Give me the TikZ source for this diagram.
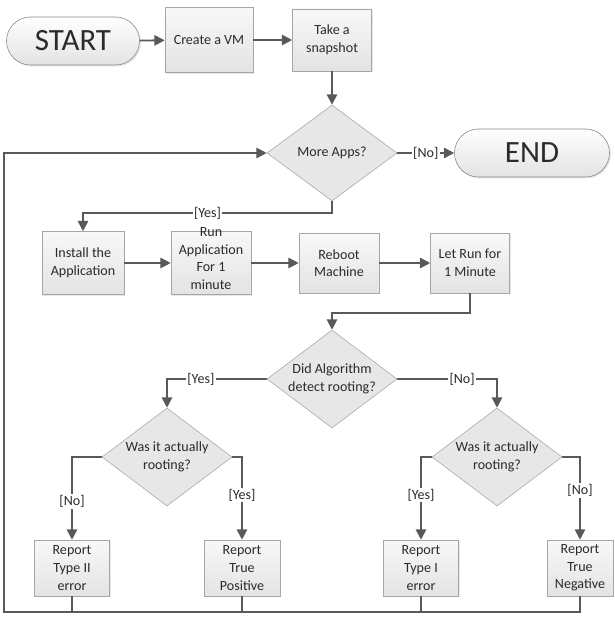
\documentclass[tikz,border=0pt]{standalone}
\usepackage{fontspec}
\setmainfont{Carlito}
\usetikzlibrary{shapes.geometric,shapes.misc,arrows.meta,shadows}

\definecolor{linegray}{HTML}{595959}
\definecolor{boxedge}{HTML}{A6A6A6}
\definecolor{boxtop}{HTML}{F8F8F8}
\definecolor{boxbottom}{HTML}{E3E3E3}
\definecolor{txtgray}{HTML}{2B2B2B}

\begin{document}
\begin{tikzpicture}[x=0.25mm, y=-0.25mm, >={Triangle[length=2.6mm,width=2.6mm]},
  every node/.style={text=txtgray, font=\fontsize{10}{12.5}\selectfont},
  box/.style={draw=boxedge, top color=boxtop, bottom color=boxbottom, align=center, inner sep=1pt,
    drop shadow={opacity=0.2, shadow xshift=1pt, shadow yshift=-1pt}},
  decision/.style={diamond, draw=boxedge, fill=boxbottom!85!white, aspect=1.33, inner sep=0pt,
    minimum width=3.25cm, minimum height=2.45cm, align=center},
  terminal/.style={rounded rectangle, draw=boxedge!80!black, top color=white, bottom color=boxbottom,
    minimum height=1.2cm, inner xsep=0pt, font=\fontsize{22}{26}\selectfont,
    drop shadow={opacity=0.2, shadow xshift=1pt, shadow yshift=-1pt}},
  flow/.style={draw=linegray, line width=1.3pt},
  lbl/.style={fill=white, inner sep=1pt}]
  \useasboundingbox (0,0) rectangle (614,620);

  %coordinates
  \coordinate (StartPos)  at (73,41);
  \coordinate (VMPos)     at (209,40);
  \coordinate (SnapPos)   at (332,40);
  \coordinate (MorePos)   at (332,153);
  \coordinate (EndPos)    at (532,153);
  \coordinate (InstPos)   at (83,263);
  \coordinate (RunPos)    at (211,263);
  \coordinate (BootPos)   at (339,263);
  \coordinate (WaitPos)   at (470,263);
  \coordinate (DetPos)    at (332,379);
  \coordinate (RootL)     at (167,457);
  \coordinate (RootR)     at (497,457);
  \coordinate (TypeTwo)   at (72,568);
  \coordinate (TruePos)   at (242,568);
  \coordinate (TypeOne)   at (421,568);
  \coordinate (TrueNeg)   at (580,568);
  \coordinate (yesturn)   at (332,213);
  \coordinate (waitturn)  at (470,313);
  \coordinate (loopcorner) at (4,612);

  %nodes
  \node[terminal, minimum width=3.325cm] (start) at (StartPos) {START};
  \node[box, minimum width=2.2cm, minimum height=1.625cm] (vm) at (VMPos) {Create a VM};
  \node[box, minimum width=1.975cm, minimum height=1.55cm] (snap) at (SnapPos) {Take a\\snapshot};
  \node[decision, minimum height=2.4cm] (more) at (MorePos) {More Apps?};
  \node[terminal, minimum width=3.875cm] (end) at (EndPos) {END};
  \node[box, minimum width=2.05cm, minimum height=1.575cm] (inst) at (InstPos) {Install the\\Application};
  \node[box, minimum width=2cm, minimum height=1.575cm] (run) at (RunPos)
    {\smash{\begin{tabular}{@{}c@{}}Run\\Application\\For 1\\minute\end{tabular}}};
  \node[box, minimum width=2cm, minimum height=1.5cm] (boot) at (BootPos) {Reboot\\Machine};
  \node[box, minimum width=1.975cm, minimum height=1.5cm] (wait) at (WaitPos) {Let Run for\\1 Minute};
  \node[decision] (detect) at (DetPos) {Did Algorithm\\detect rooting?};
  \node[decision] (wasL) at (RootL) {Was it actually\\rooting?};
  \node[decision] (wasR) at (RootR) {Was it actually\\rooting?};
  \node[box, minimum width=1.875cm, minimum height=1.4cm] (t2) at (TypeTwo) {Report\\Type II\\error};
  \node[box, minimum width=1.9cm, minimum height=1.4cm] (tp) at (TruePos) {Report\\True\\Positive};
  \node[box, minimum width=1.875cm, minimum height=1.4cm] (t1) at (TypeOne) {Report\\Type I\\error};
  \node[box, minimum width=1.65cm, minimum height=1.4cm] (tn) at (TrueNeg) {Report\\True\\Negative};

  % main line
  \draw[flow,->] (start) -- (vm);
  \draw[flow,->] (vm) -- (snap);
  \draw[flow,->] (snap) -- (more);
  \draw[flow,->] (more) -- node[lbl] {[No]} (end);
  \draw[flow,->] (more.south) -- (yesturn) -| node[lbl,pos=0.25] {[Yes]} (inst.north);
  \draw[flow,->] (inst) -- (run);
  \draw[flow,->] (run) -- (boot);
  \draw[flow,->] (boot) -- (wait);
  \draw[flow,->] (wait.south) -- (waitturn) -| (detect.north);

  % decisions
  \draw[flow,->] (detect.west) -| node[lbl,pos=0.33] {[Yes]} (wasL.north);
  \draw[flow,->] (detect.east) -| node[lbl,pos=0.325] {[No]} (wasR.north);
  \draw[flow,->] (wasL.west) -| node[lbl,pos=0.77] {[No]} (t2.north);
  \draw[flow,->] (wasL.east) -| node[lbl,pos=0.73] {[Yes]} (tp.north);
  \draw[flow,->] (wasR.west) -| node[lbl,pos=0.73] {[Yes]} (t1.north);
  \draw[flow,->] (wasR.east) -| node[lbl,pos=0.7] {[No]} (tn.north);

  % back to the loop
  \draw[flow,->] (tn.south) |- (loopcorner) |- (more.west);
  \draw[flow] (t2.south) -- (t2.south |- loopcorner);
  \draw[flow] (tp.south) -- (tp.south |- loopcorner);
  \draw[flow] (t1.south) -- (t1.south |- loopcorner);

\end{tikzpicture}
\end{document}
